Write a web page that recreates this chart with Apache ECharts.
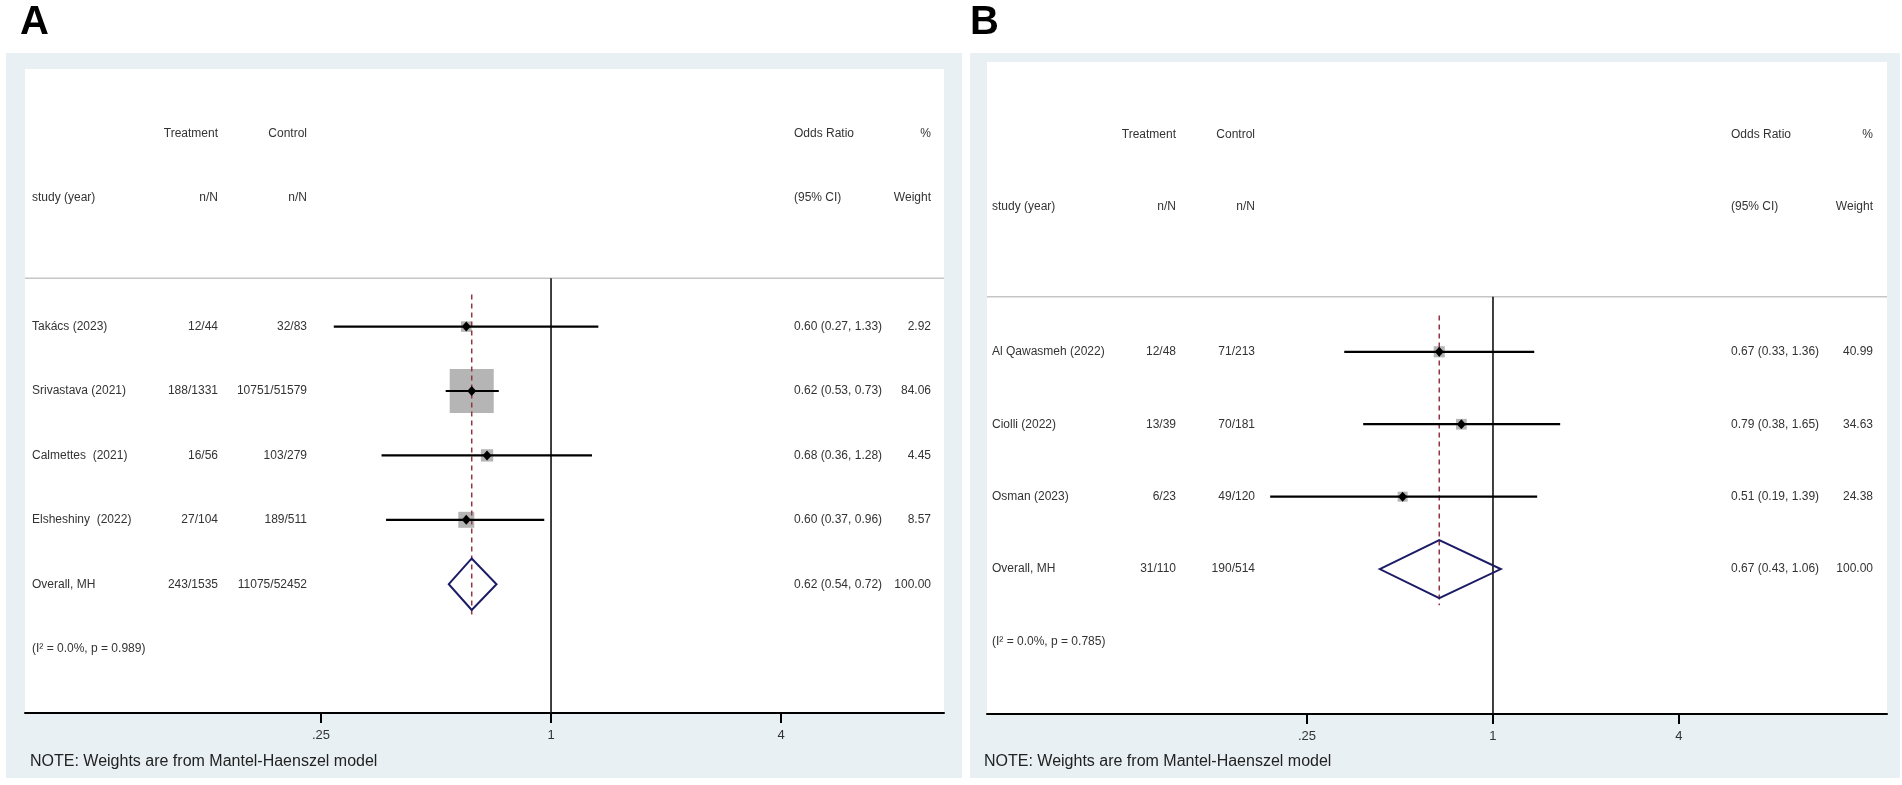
<!DOCTYPE html>
<html>
<head>
<meta charset="utf-8">
<script src="https://cdn.jsdelivr.net/npm/echarts@6/dist/echarts.min.js"></script>
<style>
html,body{margin:0;padding:0;background:#fff;}
#c{width:1902px;height:785px;}
</style>
</head>
<body>
<div id="c"></div>
<script>
// ---------- Panel A data ----------
const studiesA = ['Takács (2023)', 'Srivastava (2021)', 'Calmettes  (2021)', 'Elsheshiny  (2022)'];
const treatA   = ['12/44', '188/1331', '16/56', '27/104'];
const controlA = ['32/83', '10751/51579', '103/279', '189/511'];
const orA      = [0.60, 0.62, 0.68, 0.60];
const lowA     = [0.27, 0.53, 0.36, 0.37];
const highA    = [1.33, 0.73, 1.28, 0.96];
const weightA  = [2.92, 84.06, 4.45, 8.57];
const overallLabelA  = 'Overall, MH';
const overallCountsA = ['243/1535', '11075/52452'];
const overallA = [0.62, 0.54, 0.72, 100.00];   // OR, low, high, weight
const hetA = ['0.0%', '0.989'];                 // I², p

// ---------- Panel B data ----------
const studiesB = ['Al Qawasmeh (2022)', 'Ciolli (2022)', 'Osman (2023)'];
const treatB   = ['12/48', '13/39', '6/23'];
const controlB = ['71/213', '70/181', '49/120'];
const orB      = [0.67, 0.79, 0.51];
const lowB     = [0.33, 0.38, 0.19];
const highB    = [1.36, 1.65, 1.39];
const weightB  = [40.99, 34.63, 24.38];
const overallLabelB  = 'Overall, MH';
const overallCountsB = ['31/110', '190/514'];
const overallB = [0.67, 0.43, 1.06, 100.00];
const hetB = ['0.0%', '0.785'];

// ---------- shared ----------
const headerTop    = ['', 'Treatment', 'Control', 'Odds Ratio', '%'];
const headerBottom = ['study (year)', 'n/N', 'n/N', '(95% CI)', 'Weight'];
const tickValues = [0.25, 1, 4];
const tickLabels = ['.25', '1', '4'];
const nullOR = 1;
const noteText = 'NOTE: Weights are from Mantel-Haenszel model';

const FONT = '"Liberation Sans", Arial, Helvetica, sans-serif';
const TXT = '#333333';

const panels = [
  {
    label: 'A', studies: studiesA, treat: treatA, control: controlA, or: orA, low: lowA, high: highA, weight: weightA,
    overallLabel: overallLabelA, overallCounts: overallCountsA, overall: overallA, het: hetA,
    grid: {left: 25, top: 69, width: 919, height: 644},
    logMin: -4.574, logMax: 3.417, rowMin: -4, rowMax: 6, sepRow: -0.75,
    cols: [7, 193, 282, 769, 906],
    box: [4.49, 2.85], diamondHalf: 0.4,
    outer: {x: 6, y: 53, width: 956, height: 725},
    labelPos: [20, 23], notePos: [30, 762]
  },
  {
    label: 'B', studies: studiesB, treat: treatB, control: controlB, or: orB, low: lowB, high: highB, weight: weightB,
    overallLabel: overallLabelB, overallCounts: overallCountsB, overall: overallB, het: hetB,
    grid: {left: 987, top: 62, width: 900, height: 652},
    logMin: -5.441, logMax: 4.237, rowMin: -4, rowMax: 5, sepRow: -0.76,
    cols: [5, 189, 268, 744, 886],
    box: [0.8, 6], diamondHalf: 0.4,
    outer: {x: 970, y: 53, width: 930, height: 725},
    labelPos: [970, 23], notePos: [984, 762]
  }
];
const colAlign = ['left', 'right', 'right', 'left', 'right'];

function f2(v) { return v.toFixed(2); }
function ciText(o, l, h) { return f2(o) + ' (' + f2(l) + ', ' + f2(h) + ')'; }

const option = {
  animation: false,
  backgroundColor: '#ffffff',
  grid: [], xAxis: [], yAxis: [], series: [], graphic: []
};

panels.forEach((p, gi) => {
  const n = p.studies.length;
  const overallRow = n;
  const hetRow = n + 1;

  option.grid.push({
    left: p.grid.left, top: p.grid.top, width: p.grid.width, height: p.grid.height,
    show: true, backgroundColor: '#ffffff', borderWidth: 0
  });
  const logAxis = option.xAxis.length;
  option.xAxis.push({
    type: 'log', logBase: 2, gridIndex: gi,
    min: Math.pow(2, p.logMin), max: Math.pow(2, p.logMax),
    axisLine: {show: true, onZero: false, lineStyle: {color: '#000', width: 2}},
    axisTick: {show: true, customValues: tickValues, length: 10, lineStyle: {color: '#000', width: 2}},
    axisLabel: {
      show: true, customValues: tickValues, margin: 16, fontSize: 13, color: TXT, fontFamily: FONT,
      formatter: function (v) {
        for (let i = 0; i < tickValues.length; i++) {
          if (Math.abs(v - tickValues[i]) < 1e-6) return tickLabels[i];
        }
        return '';
      }
    },
    splitLine: {show: false}, minorTick: {show: false}
  });
  const pxAxis = option.xAxis.length;
  option.xAxis.push({type: 'value', gridIndex: gi, min: 0, max: p.grid.width, show: false});
  option.yAxis.push({type: 'value', gridIndex: gi, min: p.rowMin, max: p.rowMax, inverse: true, show: false});

  // separator line under header
  option.series.push({
    type: 'custom', xAxisIndex: pxAxis, yAxisIndex: gi, z: 2, silent: true,
    data: [[0, p.grid.width, p.sepRow]], encode: {x: [0, 1], y: 2},
    renderItem: function (params, api) {
      const a = api.coord([api.value(0), api.value(2)]);
      const b = api.coord([api.value(1), api.value(2)]);
      return {type: 'line', shape: {x1: a[0], y1: a[1], x2: b[0], y2: b[1]},
        style: {stroke: '#c6c6c6', lineWidth: 1.5}};
    }
  });

  // null line at OR = 1
  option.series.push({
    type: 'custom', xAxisIndex: logAxis, yAxisIndex: gi, z: 3, silent: true,
    data: [[nullOR, p.sepRow, p.rowMax]], encode: {x: 0, y: [1, 2]},
    renderItem: function (params, api) {
      const a = api.coord([api.value(0), api.value(1)]);
      const b = api.coord([api.value(0), api.value(2)]);
      return {type: 'line', shape: {x1: a[0], y1: a[1], x2: b[0], y2: b[1]},
        style: {stroke: '#111', lineWidth: 1.6}};
    }
  });

  // weight squares
  option.series.push({
    type: 'custom', xAxisIndex: logAxis, yAxisIndex: gi, z: 4, silent: true,
    data: p.studies.map((_, i) => [p.or[i], p.low[i], p.high[i], p.weight[i], i]),
    encode: {x: [0, 1, 2], y: 4},
    renderItem: function (params, api) {
      const c = api.coord([api.value(0), api.value(4)]);
      const s = p.box[0] * Math.sqrt(api.value(3)) + p.box[1];
      return {type: 'rect', shape: {x: c[0] - s / 2, y: c[1] - s / 2, width: s, height: s},
        style: {fill: '#b5b5b5'}};
    }
  });

  // pooled estimate dashed line
  option.series.push({
    type: 'custom', xAxisIndex: logAxis, yAxisIndex: gi, z: 5, silent: true,
    data: [[p.overall[0], -0.5, overallRow + 0.5]], encode: {x: 0, y: [1, 2]},
    renderItem: function (params, api) {
      const a = api.coord([api.value(0), api.value(1)]);
      const b = api.coord([api.value(0), api.value(2)]);
      return {type: 'line', shape: {x1: a[0], y1: a[1], x2: b[0], y2: b[1]},
        style: {stroke: '#933546', lineWidth: 1.5, lineDash: [5, 4]}};
    }
  });

  // CI lines + point markers
  option.series.push({
    type: 'custom', xAxisIndex: logAxis, yAxisIndex: gi, z: 6, silent: true,
    data: p.studies.map((_, i) => [p.or[i], p.low[i], p.high[i], i]),
    encode: {x: [0, 1, 2], y: 3},
    renderItem: function (params, api) {
      const c = api.coord([api.value(0), api.value(3)]);
      const l = api.coord([api.value(1), api.value(3)]);
      const h = api.coord([api.value(2), api.value(3)]);
      return {type: 'group', children: [
        {type: 'line', shape: {x1: l[0], y1: l[1], x2: h[0], y2: h[1]}, style: {stroke: '#000', lineWidth: 2.2}},
        {type: 'polygon', shape: {points: [[c[0] - 4.5, c[1]], [c[0], c[1] - 5], [c[0] + 4.5, c[1]], [c[0], c[1] + 5]]},
          style: {fill: '#000'}}
      ]};
    }
  });

  // overall diamond
  option.series.push({
    type: 'custom', xAxisIndex: logAxis, yAxisIndex: gi, z: 6, silent: true,
    data: [[p.overall[0], p.overall[1], p.overall[2], overallRow]],
    encode: {x: [0, 1, 2], y: 3},
    renderItem: function (params, api) {
      const r = api.value(3);
      const L = api.coord([api.value(1), r]);
      const T = api.coord([api.value(0), r - p.diamondHalf]);
      const R = api.coord([api.value(2), r]);
      const B = api.coord([api.value(0), r + p.diamondHalf]);
      return {type: 'polygon', shape: {points: [L, T, R, B]},
        style: {fill: 'none', stroke: '#1c1c66', lineWidth: 2}};
    }
  });

  // table text
  const rows = [];
  rows.push({row: -3, cells: headerTop});
  rows.push({row: -2, cells: headerBottom});
  p.studies.forEach((s, i) => rows.push({row: i, cells: [s, p.treat[i], p.control[i],
    ciText(p.or[i], p.low[i], p.high[i]), f2(p.weight[i])]}));
  rows.push({row: overallRow, cells: [p.overallLabel, p.overallCounts[0], p.overallCounts[1],
    ciText(p.overall[0], p.overall[1], p.overall[2]), f2(p.overall[3])]});
  rows.push({row: hetRow, cells: ['(I\u00B2 = ' + p.het[0] + ', p = ' + p.het[1] + ')', '', '', '', '']});

  option.series.push({
    type: 'custom', xAxisIndex: pxAxis, yAxisIndex: gi, z: 7, silent: true,
    data: rows.map(r => [0, r.row]), encode: {x: 0, y: 1},
    renderItem: function (params, api) {
      const r = rows[params.dataIndex];
      const children = [];
      r.cells.forEach((t, ci) => {
        if (!t) return;
        const pt = api.coord([p.cols[ci], api.value(1)]);
        children.push({type: 'text', x: pt[0], y: pt[1], style: {
          text: t, fill: TXT, fontSize: 12, fontFamily: FONT,
          align: colAlign[ci], verticalAlign: 'middle'}});
      });
      return {type: 'group', children: children};
    }
  });

  // decorations: outer panel, panel letter, note
  option.graphic.push({type: 'rect', z: -100, silent: true,
    shape: {x: p.outer.x, y: p.outer.y, width: p.outer.width, height: p.outer.height},
    style: {fill: '#e8f0f3'}});
  option.graphic.push({type: 'text', x: p.labelPos[0], y: p.labelPos[1], silent: true,
    style: {text: p.label, fill: '#000', font: 'bold 40px ' + FONT, verticalAlign: 'middle', align: 'left'}});
  option.graphic.push({type: 'text', x: p.notePos[0], y: p.notePos[1], silent: true,
    style: {text: noteText, fill: '#222', font: '16px ' + FONT, verticalAlign: 'middle', align: 'left'}});
});

const chart = echarts.init(document.getElementById('c'));
chart.setOption(option);
</script>
</body>
</html>
